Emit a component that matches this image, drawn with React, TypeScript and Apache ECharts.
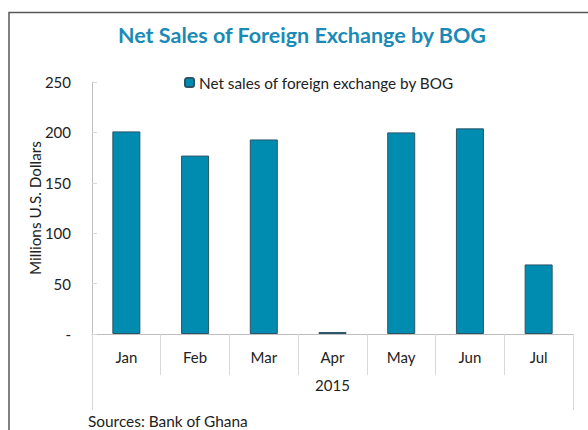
import React, { useEffect, useRef } from "react";
import * as echarts from "echarts";

const months = ["Jan", "Feb", "Mar", "Apr", "May", "Jun", "Jul"];
const years = ["2015"];
const netSales = [201, 177, 193, 2, 200, 204, 69];
const seriesName = "Net sales of foreign exchange by BOG";
const yTicks = { min: 0, max: 250, interval: 50 };

export default function App() {
  const ref = useRef<HTMLDivElement>(null);
  useEffect(() => {
    if (!ref.current) return;
    const chart = echarts.init(ref.current, null, { renderer: "svg" });
    const font = "Lato, 'Open Sans', sans-serif";
    chart.setOption({
      animation: false,
      textStyle: { fontFamily: font },
      title: {
        text: "Net Sales of Foreign Exchange by BOG",
        left: 118,
        top: 24,
        padding: 0,
        textStyle: { fontFamily: font, fontSize: 21.5, fontWeight: "bold", color: "#1a8ab6" },
      },
      legend: {
        data: [seriesName],
        left: 184,
        top: 75,
        padding: 0,
        itemWidth: 9,
        itemHeight: 9,
        textStyle: { fontFamily: font, fontSize: 15.3, color: "#222" },
      },
      grid: { left: 92, right: 15, top: 82, bottom: 96 },
      xAxis: [
        {
          type: "category",
          data: months,
          position: "bottom",
          axisLine: { lineStyle: { color: "#bfbfbf", width: 1 } },
          axisTick: { show: true, alignWithLabel: false, length: 41, lineStyle: { color: "#d9d9d9" } },
          axisLabel: { margin: 15, fontFamily: font, fontSize: 15, color: "#222" },
        },
        {
          type: "category",
          data: years,
          position: "bottom",
          axisLine: { show: false },
          axisTick: { show: true, alignWithLabel: false, length: 76, lineStyle: { color: "#d9d9d9" } },
          axisLabel: { margin: 43, fontFamily: font, fontSize: 15, color: "#222" },
        },
      ],
      yAxis: {
        type: "value",
        min: yTicks.min,
        max: yTicks.max,
        interval: yTicks.interval,
        name: "Millions U.S. Dollars",
        nameLocation: "middle",
        nameGap: 50,
        nameMoveOverlap: false,
        nameTextStyle: { fontFamily: font, fontSize: 15.3, color: "#222" },
        axisLine: { show: true, lineStyle: { color: "#bfbfbf" } },
        axisTick: { show: true, inside: true, length: 5, lineStyle: { color: "#d9d9d9" } },
        splitLine: { show: false },
        axisLabel: {
          margin: 21,
          fontFamily: font,
          fontSize: 15,
          color: "#222",
          formatter: (v: number) => (v === 0 ? "-" : String(v)),
        },
      },
      series: [
        {
          name: seriesName,
          type: "bar",
          data: netSales,
          xAxisIndex: 0,
          barWidth: 28,
          itemStyle: { color: "#008cb0", borderColor: "#2b5566", borderWidth: 1 },
        },
      ],
      graphic: [
        {
          type: "rect",
          shape: { x: 9, y: 12.5, width: 620, height: 500 },
          style: { fill: "none", stroke: "#595959", lineWidth: 1.5 },
          silent: true,
        },
        {
          type: "text",
          x: 88,
          y: 421,
          style: {
            text: "Sources: Bank of Ghana",
            fontFamily: font,
            fontSize: 15.4,
            fill: "#222",
            textVerticalAlign: "middle",
          },
        },
      ],
    });
    return () => chart.dispose();
  }, []);
  return <div ref={ref} style={{ position: "absolute", left: 0, top: 0, width: 588, height: 430 }} />;
}
